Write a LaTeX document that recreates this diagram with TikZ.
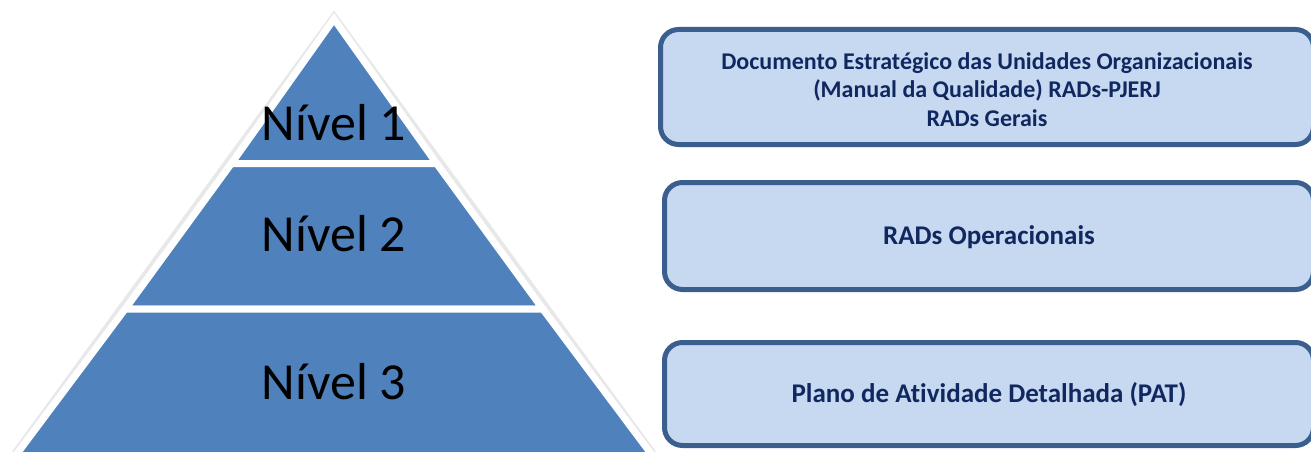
\documentclass[tikz,border=0pt]{standalone}
\usepackage{fontspec}
\setmainfont{Carlito}[Ligatures=NoCommon]
\definecolor{levelblue}{HTML}{4F81BD}
\definecolor{boxfill}{HTML}{C6D9F1}
\definecolor{boxline}{HTML}{3A5F8E}
\definecolor{boxtext}{HTML}{10285F}
\begin{document}
\begin{tikzpicture}
    [
        x=1pt, y=-1pt,
        level/.style={fill=levelblue, draw=white, line width=7pt, line join=miter},
        levellabel/.style={anchor=base, font=\fontsize{52}{52}\selectfont},
        docbox/.style={rectangle, rounded corners=18pt, draw=boxline, fill=boxfill,
            line width=5pt, inner sep=0pt},
        doctext/.style={anchor=base, align=center, text=boxtext, font=\fontsize{27}{27}\selectfont\bfseries},
    ]
    \useasboundingbox (0,0) rectangle (1311,452);
    \clip (0,0) rectangle (1311,452);
    % pyramid: apex (334,19), slope 0.73
    \draw [draw=black!9, line width=10pt, line join=miter] (334,19) -- (663.2,470) -- (4.8,470) -- cycle;
    \draw [level] (334,19) -- (436.6,163.5) -- (231.4,163.5) -- cycle;
    \draw [level] (231.4,163.5) -- (436.6,163.5) -- (542.8,309) -- (125.2,309) -- cycle;
    \draw [level] (125.2,309) -- (542.8,309) -- (663.2,470) -- (4.8,470) -- cycle;
    \node (n1) at (334,140) [levellabel] {Nível 1};
    \node (n2) at (334,251) [levellabel] {Nível 2};
    \node (n3) at (334,399) [levellabel] {Nível 3};
    % documents
    \node (d1) at (987,87) [docbox, minimum width=653pt, minimum height=115pt] {};
    \node (d2) at (989,236) [docbox, minimum width=649pt, minimum height=107pt] {};
    \node (d3) at (989,394) [docbox, minimum width=649pt, minimum height=103pt] {};
    \node (t1) at (987,126) [doctext, font=\fontsize{24}{28.5}\selectfont\bfseries]
        {Documento Estratégico das Unidades Organizacionais\\(Manual da Qualidade) RADs-PJERJ\\RADs Gerais};
    \node (t2) at (989,244) [doctext] {RADs Operacionais};
    \node (t3) at (989,402) [doctext] {Plano de Atividade Detalhada (PAT)};
\end{tikzpicture}
\end{document}
